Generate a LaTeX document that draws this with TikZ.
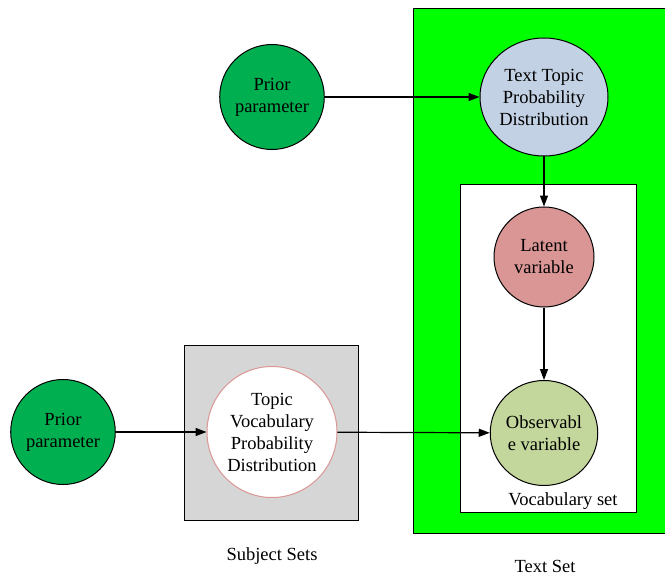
\documentclass[tikz,border=0pt]{standalone}
\usepackage{fontspec}
\setmainfont{Liberation Serif}
\usetikzlibrary{arrows.meta,shapes.geometric}
\definecolor{brightgreen}{HTML}{00FF00}
\definecolor{priorgreen}{HTML}{00B050}
\definecolor{paleblue}{HTML}{C2D1E3}
\definecolor{rosered}{HTML}{D99694}
\definecolor{olivegreen}{HTML}{C3D69B}
\definecolor{boxgray}{HTML}{D6D6D6}
\tikzset{
  x=1pt, y=-1pt,
  every node/.style={font=\fontsize{18.5}{22}\selectfont, align=center, inner sep=0pt},
  bubble/.style={ellipse, draw=black, line width=1pt},
  frame/.style={draw=black, line width=1pt},
  link/.style={draw=black, line width=1.2pt, -{Triangle[length=11pt,width=8pt]}}
}
\begin{document}
\begin{tikzpicture}
\useasboundingbox (0,0) rectangle (665,578);
% outer plates
\filldraw[frame, fill=brightgreen] (413,9) rectangle (666,533);
\filldraw[frame, fill=white] (460,184) rectangle (636,512);
\filldraw[frame, fill=boxgray] (184,345) rectangle (358,520);
% variables
\node[bubble, fill=priorgreen, minimum width=104pt, minimum height=105pt] (prior1) at (272,97) {Prior\\parameter};
\node[bubble, fill=paleblue, minimum width=128pt, minimum height=118pt] (theta) at (544,97) {Text Topic\\Probability\\Distribution};
\node[bubble, fill=rosered, minimum width=100pt, minimum height=100pt] (latent) at (544,257) {Latent\\variable};
\node[bubble, fill=olivegreen, minimum width=100pt, minimum height=105pt] (obs) at (544,433) {Observabl\\e variable};
\node[bubble, fill=priorgreen, minimum width=104pt, minimum height=105pt] (prior2) at (63,432) {Prior\\parameter};
\node[bubble, draw=rosered, fill=white, minimum width=130pt, minimum height=131pt] (phi) at (272,432) {Topic\\Vocabulary\\Probability\\Distribution};
% captions
\node (vocab) at (563,501) {Vocabulary set};
\node (textset) at (545,566) {Text Set};
\node (subjset) at (272,556) {Subject Sets};
% dependencies
\draw[link] (prior1) -- (theta);
\draw[link] (theta) -- (latent);
\draw[link] (latent) -- (obs);
\draw[link] (prior2) -- (phi);
\draw[link] (phi) -- (obs);
\end{tikzpicture}
\end{document}
